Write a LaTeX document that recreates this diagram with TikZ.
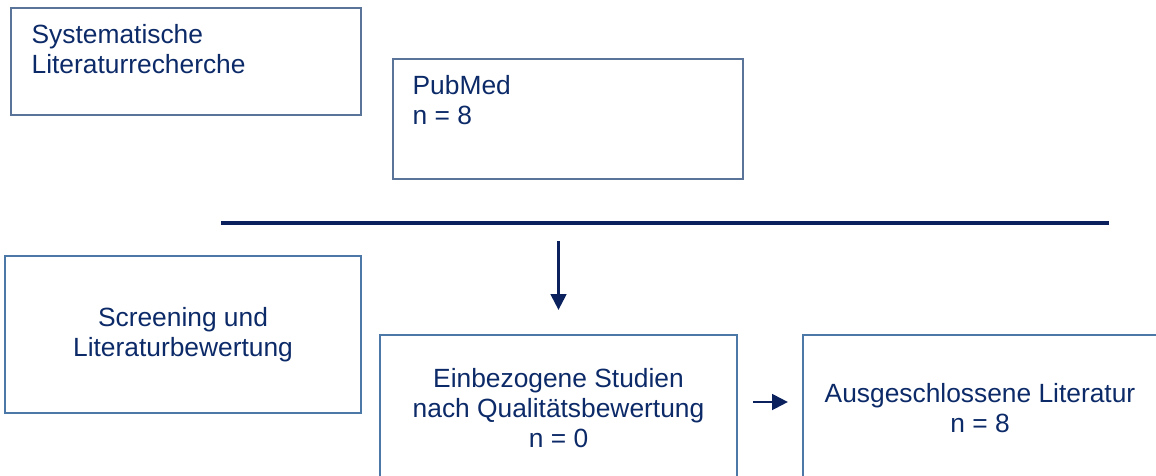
\documentclass[tikz,border=0pt]{standalone}
\usepackage{fontspec}
\setmainfont{Liberation Sans}
\usepackage{xcolor}
\usetikzlibrary{arrows.meta,positioning}

\definecolor{framec}{HTML}{4C78A8}
\definecolor{framethin}{HTML}{5A7399}
\definecolor{textc}{HTML}{0C2A68}
\definecolor{navy}{HTML}{0A215E}

\tikzset{
  box/.style={draw=framec,line width=1.4pt,minimum width=#1,inner sep=0pt},
  thinbox/.style={draw=framethin,line width=0.8pt,minimum width=7cm,inner sep=0pt},
  boxtext/.style={text=textc,font=\fontsize{15}{17}\selectfont,inner sep=0pt},
  arr/.style={navy,line width=1.3pt,-{Triangle[length=9pt,width=9pt]}},
  bar/.style={navy,line width=2.4pt}
}

\begin{document}
\begin{tikzpicture}[x=0.2mm,y=-0.2mm]
\useasboundingbox (0,0) rectangle (1156,475);
\clip (0,0) rectangle (1156,475);

% Search boxes
\node[thinbox,minimum height=2.14cm] (sys) at (186,61.5) {};
\node[boxtext,align=left,anchor=north west] (systext) at ([xshift=21*0.2mm,yshift=-16.6*0.2mm]sys.north west)
  {Systematische\\Literaturrecherche};
\node[thinbox,minimum height=2.4cm] (pub) at (568,119) {};
\node[boxtext,align=left,anchor=north west] (pubtext) at ([xshift=20*0.2mm,yshift=-16.6*0.2mm]pub.north west)
  {PubMed\\n = 8};

% Separator
\coordinate (barL) at (221,223);
\coordinate (barR) at (1109,223);
\draw[bar] (barL) -- (barR);

% Screening boxes
\node[box=7.12cm,minimum height=3.14cm,boxtext,align=center] (scr) at (183,334.5)
  {Screening und\\Literaturbewertung};
\node[box=7.14cm,minimum height=2.92cm,boxtext,align=center] (incl) at (558.5,408)
  {Einbezogene Studien\\nach Qualitätsbewertung\\n = 0};
\node[box=7.08cm,minimum height=2.92cm,boxtext,align=center] (excl) at (980,408)
  {Ausgeschlossene Literatur\\n = 8};

% Arrows
\draw[arr,shorten <=10.2pt,shorten >=13.6pt] (incl.north |- barL) -- (incl.north);
\draw[arr,shorten <=8.5pt,shorten >=7.9pt] ([yshift=6*0.2mm]incl.east) -- ([yshift=6*0.2mm]excl.west);
\end{tikzpicture}
\end{document}
